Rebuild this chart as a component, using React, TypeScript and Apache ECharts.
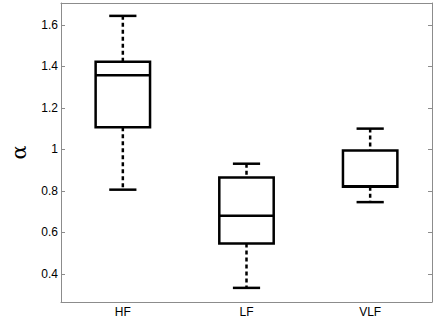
import React, { useEffect, useRef } from "react";
import * as echarts from "echarts";

const categories = ["HF", "LF", "VLF"];
const lowerWhisker = [0.806, 0.333, 0.746];
const q1 = [1.107, 0.547, 0.82];
const median = [1.357, 0.68, 0.823];
const q3 = [1.422, 0.864, 0.995];
const upperWhisker = [1.643, 0.931, 1.1];
const yTicks = [0.4, 0.6, 0.8, 1, 1.2, 1.4, 1.6];

export default function App() {
  const ref = useRef<HTMLDivElement>(null);
  useEffect(() => {
    const chart = echarts.init(ref.current!, null, { renderer: "svg" });
    const data = categories.map((c, i) => [i, lowerWhisker[i], q1[i], median[i], q3[i], upperWhisker[i]]);
    const frame = "#8c8c8c";
    const lab = { fontFamily: "Liberation Sans, Arial, sans-serif", fontSize: 12, color: "#000000" };
    chart.setOption({
      animation: false,
      grid: { left: 53, right: 4, top: 3, bottom: 19 },
      xAxis: [
        {
          type: "category",
          data: categories,
          boundaryGap: true,
          axisLine: { lineStyle: { color: frame, width: 1 } },
          axisTick: { inside: true, alignWithLabel: true, length: 4, lineStyle: { color: frame } },
          axisLabel: { ...lab, margin: 4 },
        },
        {
          type: "category",
          data: categories,
          position: "top",
          boundaryGap: true,
          axisLine: { lineStyle: { color: frame, width: 1 } },
          axisTick: { inside: true, alignWithLabel: true, length: 4, lineStyle: { color: frame } },
          axisLabel: { show: false },
        },
      ],
      yAxis: [
        {
          type: "value",
          min: 0.265,
          max: 1.705,
          splitLine: { show: false },
          axisLine: { show: true, lineStyle: { color: frame, width: 1 } },
          axisTick: { show: true, inside: true, length: 4, customValues: yTicks, lineStyle: { color: frame } },
          axisLabel: { ...lab, margin: 3, customValues: yTicks, formatter: (v: number) => String(parseFloat(v.toFixed(1))) },
          name: "α",
          nameLocation: "middle",
          nameGap: 32,
          nameRotate: 90,
          nameTextStyle: { fontFamily: "DejaVu Serif, serif", fontSize: 21, color: "#000" },
        },
        {
          type: "value",
          min: 0.265,
          max: 1.705,
          position: "right",
          splitLine: { show: false },
          axisLine: { show: true, lineStyle: { color: frame, width: 1 } },
          axisTick: { show: true, inside: true, length: 4, customValues: yTicks, lineStyle: { color: frame } },
          axisLabel: { show: false },
        },
      ],
      series: [
        {
          type: "custom",
          xAxisIndex: 0,
          yAxisIndex: 0,
          data,
          encode: { x: 0, y: [1, 2, 3, 4, 5] },
          renderItem: (params: any, api: any) => {
            const x = api.value(0);
            const band = api.size([1, 0])[0];
            const bw = band * 0.44;
            const cw = band * 0.22;
            const pMin = api.coord([x, api.value(1)]);
            const pQ1 = api.coord([x, api.value(2)]);
            const pMed = api.coord([x, api.value(3)]);
            const pQ3 = api.coord([x, api.value(4)]);
            const pMax = api.coord([x, api.value(5)]);
            const cx = pMed[0];
            const solid = { stroke: "#000", lineWidth: 2.5, fill: "none" };
            const dashed = { stroke: "#000", lineWidth: 2.5, lineDash: [4, 3] };
            return {
              type: "group",
              children: [
                { type: "line", shape: { x1: cx, y1: pMax[1], x2: cx, y2: pQ3[1] }, style: dashed },
                { type: "line", shape: { x1: cx, y1: pQ1[1], x2: cx, y2: pMin[1] }, style: dashed },
                { type: "line", shape: { x1: cx - cw / 2, y1: pMax[1], x2: cx + cw / 2, y2: pMax[1] }, style: solid },
                { type: "line", shape: { x1: cx - cw / 2, y1: pMin[1], x2: cx + cw / 2, y2: pMin[1] }, style: solid },
                {
                  type: "rect",
                  shape: { x: cx - bw / 2, y: pQ3[1], width: bw, height: pQ1[1] - pQ3[1] },
                  style: { stroke: "#000", lineWidth: 2.5, fill: "#fff" },
                },
                { type: "line", shape: { x1: cx - bw / 2, y1: pMed[1], x2: cx + bw / 2, y2: pMed[1] }, style: solid },
              ],
            };
          },
        },
      ],
    });
    return () => chart.dispose();
  }, []);
  return <div ref={ref} style={{ width: 436, height: 321, position: "absolute", left: 0, top: 0, background: "#fff" }} />;
}
